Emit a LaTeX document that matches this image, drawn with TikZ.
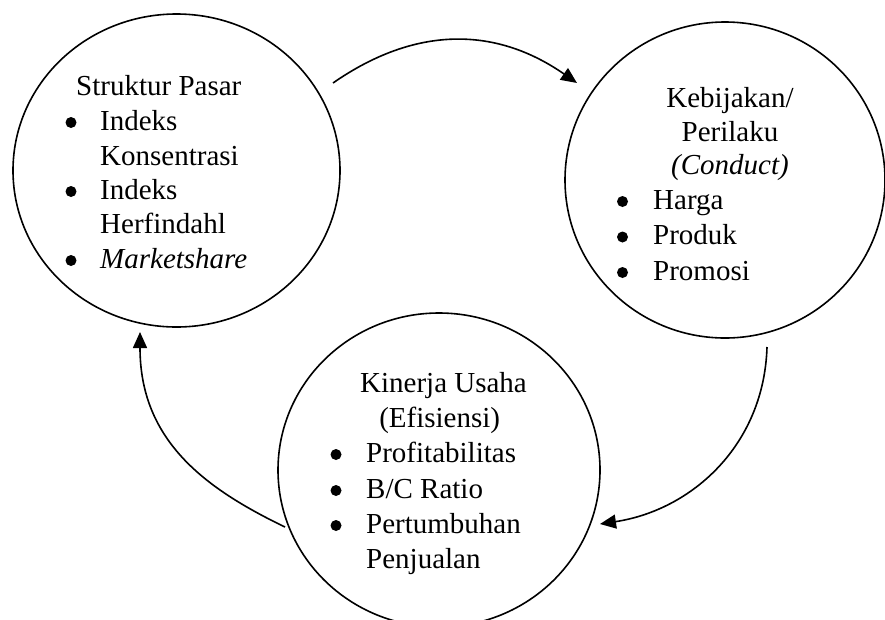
\documentclass[tikz,border=0pt]{standalone}
\usepackage{fontspec}
\setmainfont{Liberation Serif}
\usetikzlibrary{shapes.geometric,arrows.meta}
\begin{document}
\begin{tikzpicture}[x=1pt,y=-1pt,
  bubble/.style={ellipse,draw,line width=1.6pt,inner sep=0pt},
  txt/.style={anchor=base west,inner sep=0pt,font=\fontsize{29}{35}\selectfont},
  ctr/.style={txt,anchor=base},
  dot/.style={circle,fill,inner sep=0pt,minimum size=11pt},
  flow/.style={line width=1.6pt,-{Triangle[length=16pt,width=14pt]}}]
\useasboundingbox (0,0) rectangle (885,619);
% circles
\node[bubble,minimum width=327pt,minimum height=313pt] (pasar) at (176.5,170.5) {};
\node[bubble,minimum width=320pt,minimum height=316pt] (conduct) at (725,180) {};
\node[bubble,minimum width=322pt,minimum height=314pt] (kinerja) at (439,470) {};
% left text
\node[txt] (p0) at (76,95) {Struktur Pasar};
\node[dot] (pb1) at (71,122.5) {};
\node[txt] (p1) at (100,130) {Indeks};
\node[txt] (p1b) at (100,165) {Konsentrasi};
\node[dot] (pb2) at (71,191.5) {};
\node[txt] (p2) at (100,199) {Indeks};
\node[txt] (p2b) at (100,233) {Herfindahl};
\node[dot] (pb3) at (71,260.5) {};
\node[txt] (p3) at (100,268) {\itshape Marketshare};
% right text
\node[ctr] (c0) at (730,107) {Kebijakan/};
\node[ctr] (c0b) at (730,141) {Perilaku};
\node[ctr] (c0c) at (730,174) {\itshape (Conduct)};
\node[dot] (cb1) at (622.5,201.5) {};
\node[txt] (c1) at (653,209) {Harga};
\node[dot] (cb2) at (622.5,237) {};
\node[txt] (c2) at (653,244.5) {Produk};
\node[dot] (cb3) at (622.5,272.5) {};
\node[txt] (c3) at (653,280) {Promosi};
% bottom text
\node[ctr] (k0) at (443.5,392) {Kinerja Usaha};
\node[ctr] (k0b) at (439.7,427) {(Efisiensi)};
\node[dot] (kb1) at (336,454.5) {};
\node[txt] (k1) at (366,462) {Profitabilitas};
\node[dot] (kb2) at (336,490.5) {};
\node[txt] (k2) at (366,498) {B/C Ratio};
\node[dot] (kb3) at (336,525.5) {};
\node[txt] (k3) at (366,533) {Pertumbuhan};
\node[txt] (k3b) at (366,568) {Penjualan};
% arrow ends
\coordinate (a1s) at (333,83);
\coordinate (a1e) at (577,83);
\coordinate (a2s) at (767,347);
\coordinate (a2e) at (600,524);
\coordinate (a3s) at (285,527);
\coordinate (a3e) at (140,332);
\draw[flow] (a1s) .. controls (415,26) and (495,26) .. (a1e);
\draw[flow] (a2s) .. controls (764,445) and (692,510) .. (a2e);
\draw[flow] (a3s) .. controls (204,488) and (140,440) .. (a3e);
\end{tikzpicture}
\end{document}
